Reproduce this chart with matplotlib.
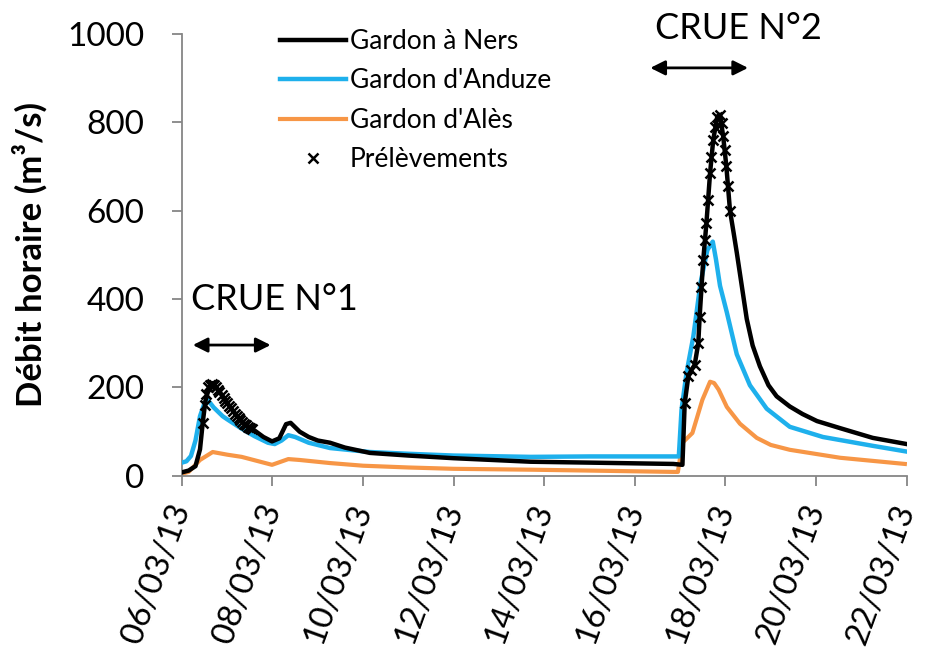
import matplotlib.pyplot as plt

plt.rcParams['font.family'] = ['Lato', 'DejaVu Sans']

# time in days since 06/03/13 00:00
ners_t = [0.0, 0.15, 0.3, 0.4, 0.46, 0.52, 0.6, 0.68, 0.8, 1.0, 1.2, 1.4, 1.6, 1.8, 1.99,
          2.15, 2.3, 2.4, 2.6, 2.8, 3.0, 3.27, 3.6, 4.15, 5.0, 6.0, 7.7, 9.0, 10.85, 11.05,
          11.10, 11.18, 11.25, 11.32, 11.40, 11.43, 11.51, 11.58, 11.66, 11.73, 11.82, 11.88,
          11.95, 12.02, 12.10, 12.18, 12.25, 12.36, 12.47, 12.60, 12.76, 12.95, 13.13, 13.42,
          13.70, 14.02, 14.53, 15.25, 16.0]
ners_q = [8, 12, 22, 60, 120, 170, 200, 210, 195, 165, 137, 116, 103, 88, 78,
          85, 117, 120, 100, 88, 80, 75, 64, 52, 46, 40, 32, 30, 27, 25,
          164, 225, 240, 251, 300, 360, 489, 572, 685, 760, 813, 817,
          768, 700, 600, 550, 505, 430, 355, 295, 248, 205, 180, 157,
          140, 124, 108, 86, 72]

anduze_t = [0.0, 0.1, 0.2, 0.3, 0.4, 0.5, 0.57, 0.7, 0.9, 1.0, 1.3, 1.6, 1.9, 2.05, 2.2,
            2.35, 2.5, 2.8, 3.27, 4.15, 5.0, 6.0, 7.7, 9.0, 10.85, 10.97,
            11.03, 11.14, 11.29, 11.45, 11.60, 11.72, 11.79, 11.88, 12.03, 12.25, 12.54,
            12.91, 13.42, 14.15, 15.25, 16.0]
anduze_q = [30, 33, 45, 80, 135, 165, 172, 155, 135, 128, 108, 90, 75, 72, 80,
            92, 88, 75, 63, 54, 50, 46, 43, 44, 44, 44,
            150, 233, 315, 437, 511, 530, 490, 430, 370, 275, 205,
            152, 111, 88, 68, 55]

ales_t = [0.0, 0.15, 0.4, 0.68, 1.0, 1.32, 1.99, 2.35, 2.6, 3.27, 4.0, 5.0, 6.0, 7.7,
          9.0, 10.85, 10.95, 11.05, 11.27, 11.49, 11.66, 11.75, 11.85, 12.03, 12.32, 12.69,
          13.0, 13.42, 14.53, 15.96]
ales_q = [5, 9, 36, 54, 48, 43, 25, 38, 36, 29, 23, 19, 16, 14,
          12, 9, 9, 75, 97, 172, 213, 210, 195, 156, 118, 86,
          70, 59, 41, 27]

# sampling times and discharges (Prélèvements)
prel_t = [0.46, 0.50, 0.54, 0.58, 0.62, 0.67, 0.71, 0.75, 0.79, 0.83, 0.88, 0.92, 0.96,
          1.00, 1.04, 1.08, 1.13, 1.17, 1.21, 1.25, 1.29, 1.33, 1.38, 1.42, 1.46, 1.50, 1.54,
          11.10, 11.18, 11.25, 11.32, 11.40, 11.43, 11.47, 11.51, 11.55, 11.58, 11.62,
          11.66, 11.69, 11.73, 11.77, 11.82, 11.88, 11.92, 11.95, 11.99, 12.02, 12.06, 12.10]
prel_q = [120, 160, 185, 200, 205, 208, 205, 200, 195, 190, 182, 176, 170,
          165, 159, 153, 146, 140, 135, 130, 126, 122, 118, 114, 111, 108, 105,
          164, 225, 240, 251, 300, 360, 428, 489, 534, 572, 624,
          685, 722, 760, 790, 813, 817, 798, 768, 738, 700, 655, 600]

tick_days = [0, 2, 4, 6, 8, 10, 12, 14, 16]
tick_labels = ['06/03/13', '08/03/13', '10/03/13', '12/03/13', '14/03/13',
               '16/03/13', '18/03/13', '20/03/13', '22/03/13']

fig = plt.figure(figsize=(9.28, 6.51), dpi=100)
ax = fig.add_axes([0.196, 0.269, 0.781, 0.679])

l1, = ax.plot(ners_t, ners_q, color='black', lw=3.2, label='Gardon à Ners', zorder=4)
l2, = ax.plot(anduze_t, anduze_q, color='#1EB0EC', lw=3.2, label="Gardon d'Anduze", zorder=3)
l3, = ax.plot(ales_t, ales_q, color='#F79646', lw=3, label="Gardon d'Alès", zorder=2)
l4, = ax.plot(prel_t, prel_q, ls='none', marker='x', color='black', ms=7, mew=1.8,
              label='Prélèvements', zorder=5)

ax.set_xlim(0, 16)
ax.set_ylim(0, 1000)
ax.set_yticks([0, 200, 400, 600, 800, 1000])
ax.set_xticks(tick_days)
ax.set_xticklabels(tick_labels, rotation=70, ha='right', va='center',
                   rotation_mode='anchor')
ax.tick_params(axis='both', labelsize=24, color='#868686', length=7, width=1.3,
               direction='out')
ax.tick_params(axis='y', pad=20)
ax.tick_params(axis='x', pad=14)
for s in ['top', 'right']:
    ax.spines[s].set_visible(False)
for s in ['left', 'bottom']:
    ax.spines[s].set_color('#868686')
    ax.spines[s].set_linewidth(1.3)

ax.set_ylabel('Débit horaire (m³/s)', fontsize=25, fontweight='bold', labelpad=14)

# flood annotations
ax.annotate('', xy=(0.18, 296), xytext=(2.02, 296),
            arrowprops=dict(arrowstyle='<|-|>', color='black', lw=2, mutation_scale=22))
ax.text(0.2, 400, 'CRUE N°1', fontsize=26, ha='left', va='center')
ax.annotate('', xy=(10.28, 923), xytext=(12.56, 923),
            arrowprops=dict(arrowstyle='<|-|>', color='black', lw=2, mutation_scale=22))
ax.text(10.45, 1013, 'CRUE N°2', fontsize=26, ha='left', va='center', clip_on=False)

fig.legend(handles=[l1, l2, l3, l4], loc='upper left', bbox_to_anchor=(0.29, 0.972),
           frameon=False, fontsize=19, handlelength=2.5, handletextpad=0.15,
           labelspacing=0.55, borderaxespad=0)

fig.savefig('out.png', dpi=100)
